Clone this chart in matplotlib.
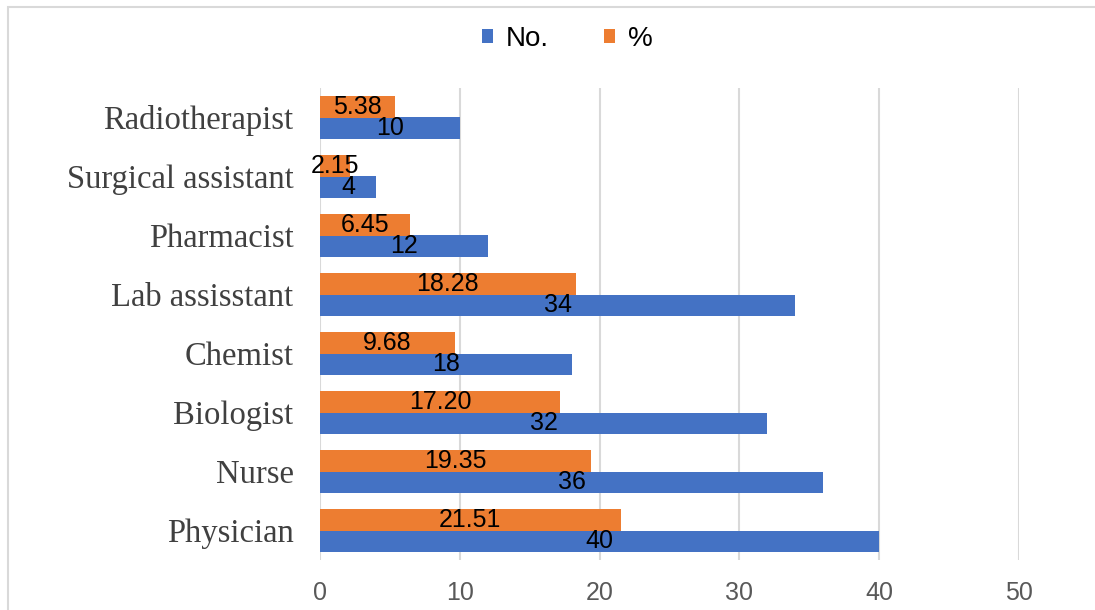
import matplotlib.pyplot as plt
import numpy as np
from matplotlib.patches import Rectangle

# data
jobs = ['Physician', 'Nurse', 'Biologist', 'Chemist', 'Lab assisstant',
        'Pharmacist', 'Surgical assistant', 'Radiotherapist']
counts = [40, 36, 32, 18, 34, 12, 4, 10]
percents = [21.51, 19.35, 17.20, 9.68, 18.28, 6.45, 2.15, 5.38]
x_ticks = [0, 10, 20, 30, 40, 50]

blue = '#4472C4'
orange = '#ED7D31'

fig = plt.figure(figsize=(10.95, 6.10), dpi=100)
ax = fig.add_axes([320 / 1095, 1 - 560 / 610, (1019 - 320) / 1095, (560 - 88) / 610])

y = np.arange(len(jobs))
h = 0.36
b1 = ax.barh(y - h / 2, counts, height=h, color=blue, label='No.', zorder=2)
b2 = ax.barh(y + h / 2, percents, height=h, color=orange, label='%', zorder=2)

# value labels in the middle of each bar
for rect, v in zip(b1, counts):
    ax.text(v / 2, rect.get_y() + rect.get_height() / 2, str(v),
            ha='center', va='center', fontsize=18, family='Liberation Sans',
            color='black', zorder=3)
for rect, v in zip(b2, percents):
    ax.text(v / 2, rect.get_y() + rect.get_height() / 2, f'{v:.2f}',
            ha='center', va='center', fontsize=18, family='Liberation Sans',
            color='black', zorder=3)

ax.set_xlim(0, 50)
ax.set_ylim(-0.5, len(jobs) - 0.5)
ax.set_xticks(x_ticks)
ax.set_xticklabels([str(t) for t in x_ticks], fontsize=18,
                   family='Liberation Sans', color='#595959')
ax.set_yticks(y)
ax.set_yticklabels(jobs, fontsize=23.5, family='Liberation Serif', color='#404040')
ax.tick_params(axis='y', length=0, pad=19)
ax.tick_params(axis='x', length=0, pad=15)
ax.grid(axis='x', color='#D9D9D9', linewidth=1.5, zorder=0)
for s in ax.spines.values():
    s.set_visible(False)

fig.legend(handles=[b1, b2], labels=['No.', '%'], loc='center',
           bbox_to_anchor=(567 / 1095, 1 - 39 / 610), ncol=2, frameon=False,
           prop={'family': 'Liberation Sans', 'size': 20}, handlelength=0.4,
           handleheight=0.4, handletextpad=0.45, columnspacing=2.0)

# light border around the chart area
fig.patches.append(Rectangle((8 / 1095, -0.1), 1.2, 1.1 - 7 / 610,
                             transform=fig.transFigure, fill=False,
                             edgecolor='#D9D9D9', linewidth=1.5))

fig.savefig('out.png', dpi=100)
